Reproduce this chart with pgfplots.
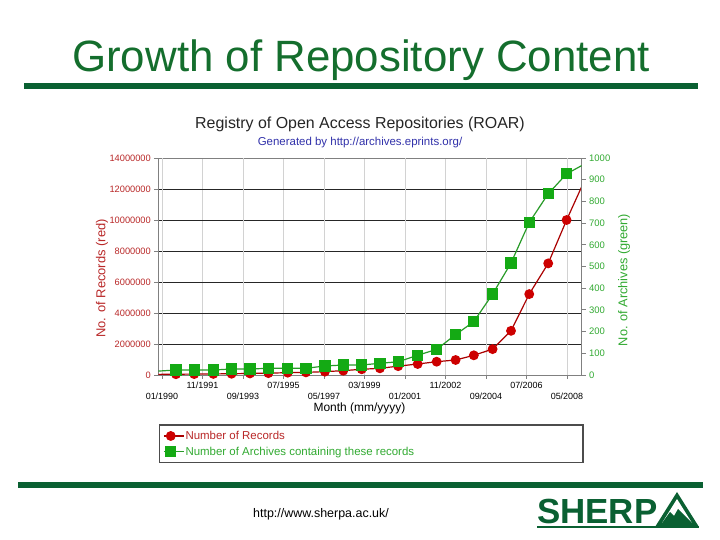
\documentclass[border=0pt]{standalone}
\usepackage{fontspec}
\setmainfont{Liberation Sans}
\usepackage{pgfplots}
\pgfplotsset{compat=1.18}

\definecolor{bargreen}{RGB}{10,96,50}
\definecolor{titlegreen}{RGB}{20,110,45}
\definecolor{recred}{RGB}{205,0,0}
\definecolor{recline}{RGB}{170,0,0}
\definecolor{rectext}{RGB}{185,40,40}
\definecolor{arcgreen}{RGB}{20,170,20}
\definecolor{arcline}{RGB}{40,155,40}
\definecolor{arctext}{RGB}{50,170,50}
\definecolor{subblue}{RGB}{50,50,170}

\pgfplotsset{
  recstyle/.style={recline, line width=1.2bp, mark=*, mark size=4.3bp,
    mark options={fill=recred, draw=recred}},
  arcstyle/.style={arcline, line width=1.2bp, mark=square*, mark size=5bp,
    mark options={fill=arcgreen, draw=arcgreen}},
}

\begin{document}
\begin{tikzpicture}
\path[use as bounding box, fill=white] (0,0) rectangle (720bp,540bp);

% slide frame
\node[anchor=base, text=titlegreen, font=\fontsize{44}{48}\selectfont, inner sep=0]
  at (361bp,468bp) {Growth of Repository Content};
\fill[bargreen] (24bp,451bp) rectangle (698bp,457bp);
\fill[bargreen] (18bp,52bp) rectangle (703bp,58bp);
\node[font=\fontsize{12.5}{14}\selectfont] at (321bp,26bp) {http://www.sherpa.ac.uk/};
\node[anchor=base west, inner sep=0, text=bargreen, font=\bfseries\fontsize{35}{35}\selectfont]
  at (537bp,17bp) {SHERP};
\fill[bargreen] (655bp,13bp) -- (677bp,48bp) -- (699bp,13bp) -- cycle;
\fill[white] (662bp,17bp) -- (677bp,41bp) -- (692bp,17bp) -- cycle;
\fill[bargreen] (662bp,17bp) -- (670bp,28bp) -- (674bp,24bp) -- (678bp,31bp) -- (684bp,25bp) -- (692bp,17bp) -- cycle;
\fill[bargreen] (537bp,12bp) rectangle (699bp,14bp);

% chart titles
\node[anchor=base, inner sep=0, text=black!85, font=\fontsize{16}{18}\selectfont]
  at (360bp,411bp) {Registry of Open Access Repositories (ROAR)};
\node[anchor=base, inner sep=0, text=subblue, font=\fontsize{11.5}{13}\selectfont]
  at (360bp,394bp) {Generated by http://archives.eprints.org/};

% legend frame
\draw[black!70, line width=1.2bp] (159.3bp,115bp) rectangle (583bp,77.3bp);

\begin{axis}[
  at={(158.3bp,165bp)}, anchor=south west,
  width=423.4bp, height=217bp, scale only axis,
  xmin=-2, xmax=228, ymin=0, ymax=14000000,
  scaled y ticks=false,
  axis line style={gray, line width=0.8bp},
  xtick={22,66,110,154,198},
  xticklabels={11/1991,07/1995,03/1999,11/2002,07/2006},
  extra x ticks={0,44,88,132,176,220},
  extra x tick labels={01/1990,09/1993,05/1997,01/2001,09/2004,05/2008},
  extra x tick style={grid=major, xticklabel style={yshift=-10.5bp}},
  ytick={0,2000000,4000000,6000000,8000000,10000000,12000000,14000000},
  yticklabels={0,2000000,4000000,6000000,8000000,10000000,12000000,14000000},
  tick align=outside, major tick length=4bp,
  xtick pos=left, ytick pos=left,
  tick style={gray, line width=0.8bp},
  xmajorgrids, ymajorgrids,
  x grid style={gray!35, line width=0.8bp},
  y grid style={black!85, line width=0.8bp},
  xticklabel style={font=\fontsize{9}{10}\selectfont, inner sep=1.5bp, yshift=-1.5bp},
  yticklabel style={font=\fontsize{9.3}{10}\selectfont, text=rectext},
  xlabel={Month (mm/yyyy)},
  xlabel style={at={(axis description cs:0.475,-0.155)}, anchor=center,
    font=\fontsize{12}{14}\selectfont},
  ylabel={No. of Records (red)},
  ylabel style={at={(axis description cs:-0.133,0.445)}, anchor=center,
    font=\fontsize{13}{15}\selectfont, text=rectext},
]
\addplot[recstyle, mark indices={2,...,23}] coordinates {
  (-2,40000)(7.6,50000)(17.5,60000)(27.9,70000)(37.8,80000)(47.8,100000)
  (57.8,120000)(68.3,150000)(78.2,170000)(88.5,215000)(98.5,280000)
  (108.5,370000)(118.4,430000)(128.3,570000)(138.9,710000)(149.2,858000)
  (159.5,968000)(169.4,1270000)(179.6,1670000)(189.6,2850000)
  (199.5,5220000)(209.8,7200000)(219.8,10000000)(228,12150000)
};
\end{axis}

\begin{axis}[
  at={(158.3bp,165bp)}, anchor=south west,
  width=423.4bp, height=217bp, scale only axis,
  xmin=-2, xmax=228, ymin=0, ymax=1000,
  axis x line=none, axis y line*=right,
  axis line style={gray, line width=0.8bp},
  ytick={0,100,200,300,400,500,600,700,800,900,1000},
  yticklabels={0,100,200,300,400,500,600,700,800,900,1000},
  tick align=outside, major tick length=4bp,
  tick style={gray, line width=0.8bp},
  yticklabel style={font=\fontsize{9.5}{10}\selectfont, text=arctext},
  ylabel={No. of Archives (green)},
  ylabel style={at={(axis description cs:1.100,0.438)}, anchor=center, rotate=0,
    font=\fontsize{12.8}{15}\selectfont, text=arctext},
  legend style={at={(axis description cs:0.011,-0.252)}, anchor=north west,
    draw=none, fill=none, font=\fontsize{11.5}{13}\selectfont,
    row sep=3.5bp, inner sep=0bp, nodes={inner sep=1.2bp}},
  legend cell align=left,
  legend image code/.code={\draw[mark repeat=2, mark phase=2, #1]
    plot coordinates {(0bp,0bp) (7bp,0bp) (20bp,0bp)};},
]
\addlegendimage{recstyle}
\addlegendentry{\textcolor{rectext}{Number of Records}}
\addlegendimage{arcstyle}
\addlegendentry{\textcolor{arctext}{Number of Archives containing these records}}
\addplot[arcstyle, mark indices={2,...,23}, forget plot] coordinates {
  (-2,18)(7.6,23)(17.5,23)(27.9,23)(37.8,27.6)(47.8,27.6)(57.8,30.9)
  (68.3,30.9)(78.2,30.9)(88.5,41.5)(98.5,46)(108.5,46)(118.4,54)(128.3,61)
  (138.9,91)(149.2,118)(159.5,186)(169.4,246)(179.6,373)(189.6,516)
  (199.5,703)(209.8,835)(219.8,927)(228,965)
};
\end{axis}
\end{tikzpicture}
\end{document}
